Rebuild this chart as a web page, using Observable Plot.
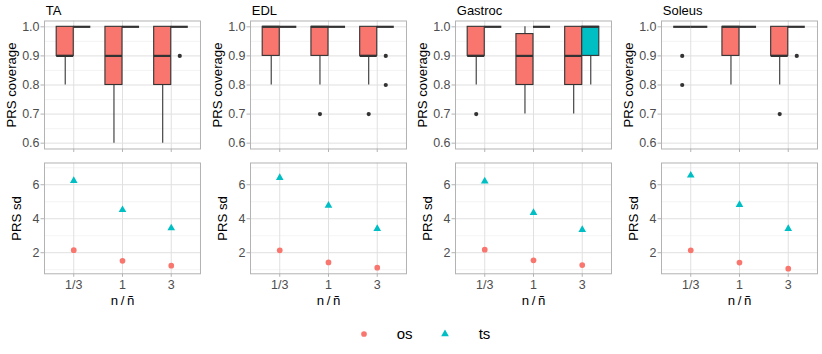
<!DOCTYPE html>
<html><head><meta charset="utf-8">
<script src="https://cdn.jsdelivr.net/npm/d3@7"></script>
<script src="https://cdn.jsdelivr.net/npm/@observablehq/plot@0.6"></script>
<style>
body{margin:0;background:#fff;}
#chart{position:relative;width:822px;height:354px;font-family:"Liberation Sans",Arial,sans-serif;overflow:hidden;}
.cell{position:absolute;}
.leg{position:absolute;font-size:15px;color:#000;line-height:1;}
</style></head><body><div id="chart"></div>
<script>
const muscles = ["TA", "EDL", "Gastroc", "Soleus"];
const ratios = ["1/3", "1", "3"];
const groups = ["os", "ts"];
const groupColors = ["#F8766D", "#00BFC4"];

// five-number summaries [lower whisker, Q1, median, Q3, upper whisker] for ratios 1/3, 1, 3
const boxTA_os = [[0.8, 0.9, 0.9, 1.0, 1.0], [0.6, 0.8, 0.9, 1.0, 1.0], [0.6, 0.8, 0.9, 1.0, 1.0]];
const boxTA_ts = [[1.0, 1.0, 1.0, 1.0, 1.0], [1.0, 1.0, 1.0, 1.0, 1.0], [1.0, 1.0, 1.0, 1.0, 1.0]];
const boxEDL_os = [[0.8, 0.9, 1.0, 1.0, 1.0], [0.8, 0.9, 1.0, 1.0, 1.0], [0.8, 0.9, 0.9, 1.0, 1.0]];
const boxEDL_ts = [[1.0, 1.0, 1.0, 1.0, 1.0], [1.0, 1.0, 1.0, 1.0, 1.0], [1.0, 1.0, 1.0, 1.0, 1.0]];
const boxGastroc_os = [[0.8, 0.9, 0.9, 1.0, 1.0], [0.7, 0.8, 0.9, 0.975, 1.0], [0.7, 0.8, 0.9, 1.0, 1.0]];
const boxGastroc_ts = [[1.0, 1.0, 1.0, 1.0, 1.0], [1.0, 1.0, 1.0, 1.0, 1.0], [0.8, 0.9, 1.0, 1.0, 1.0]];
const boxSoleus_os = [[1.0, 1.0, 1.0, 1.0, 1.0], [0.8, 0.9, 1.0, 1.0, 1.0], [0.8, 0.9, 0.9, 1.0, 1.0]];
const boxSoleus_ts = [[1.0, 1.0, 1.0, 1.0, 1.0], [1.0, 1.0, 1.0, 1.0, 1.0], [1.0, 1.0, 1.0, 1.0, 1.0]];

// outliers: [muscle, ratio, group, value]
const outliers = [
  ["TA", "3", "ts", 0.9],
  ["EDL", "1", "os", 0.7],
  ["EDL", "3", "os", 0.7],
  ["EDL", "3", "ts", 0.9],
  ["EDL", "3", "ts", 0.8],
  ["Gastroc", "1/3", "os", 0.7],
  ["Soleus", "1/3", "os", 0.9],
  ["Soleus", "1/3", "os", 0.8],
  ["Soleus", "3", "os", 0.7],
  ["Soleus", "3", "ts", 0.9]
];

// PRS sd for ratios 1/3, 1, 3
const sdTA_os = [2.15, 1.52, 1.24];
const sdTA_ts = [6.24, 4.52, 3.45];
const sdEDL_os = [2.14, 1.43, 1.12];
const sdEDL_ts = [6.41, 4.78, 3.41];
const sdGastroc_os = [2.18, 1.55, 1.27];
const sdGastroc_ts = [6.21, 4.35, 3.35];
const sdSoleus_os = [2.14, 1.42, 1.06];
const sdSoleus_ts = [6.55, 4.82, 3.41];

const coverageTicks = [0.6, 0.7, 0.8, 0.9, 1.0];
const coverageMinor = [0.65, 0.75, 0.85, 0.95];
const sdTicks = [2, 4, 6];
const sdMinor = [1, 3, 5, 7];

const boxStats = {
  TA: [boxTA_os, boxTA_ts], EDL: [boxEDL_os, boxEDL_ts],
  Gastroc: [boxGastroc_os, boxGastroc_ts], Soleus: [boxSoleus_os, boxSoleus_ts]
};
const sdStats = {
  TA: [sdTA_os, sdTA_ts], EDL: [sdEDL_os, sdEDL_ts],
  Gastroc: [sdGastroc_os, sdGastroc_ts], Soleus: [sdSoleus_os, sdSoleus_ts]
};

const colW = 205.6, mL = 44, mR = colW - 44 - 156;
const boxW = 0.35;
const FONT = '"Liberation Sans", Arial, sans-serif';
const chart = document.getElementById("chart");

muscles.forEach((m, k) => {
  const boxes = [];
  boxStats[m].forEach((arr, g) => arr.forEach((s, i) => {
    const c = i + 1;
    const x1 = g === 0 ? c - boxW : c, x2 = g === 0 ? c : c + boxW;
    boxes.push({group: groups[g], x1, x2, xc: (x1 + x2) / 2, lo: s[0], q1: s[1], med: s[2], q3: s[3], hi: s[4]});
  }));
  const outs = outliers.filter(d => d[0] === m).map(d => {
    const c = ratios.indexOf(d[1]) + 1;
    return {x: d[2] === "os" ? c - boxW / 2 : c + boxW / 2, y: d[3]};
  });

  const top = Plot.plot({
    width: colW, height: 155,
    marginLeft: mL, marginRight: mR, marginTop: 20.5, marginBottom: 6.5,
    style: {fontFamily: FONT, fontSize: "12.5px", background: "transparent", overflow: "visible"},
    x: {domain: [0.4, 3.6], axis: null},
    y: {domain: [0.58, 1.02], axis: null},
    color: {domain: groups, range: groupColors},
    marks: [
      Plot.ruleY(coverageMinor, {stroke: "#ececec", strokeWidth: 0.6}),
      Plot.ruleY(coverageTicks, {stroke: "#e0e0e0", strokeWidth: 1}),
      Plot.ruleX([1, 2, 3], {stroke: "#e0e0e0", strokeWidth: 1}),
      Plot.ruleX(boxes, {x: "xc", y1: "lo", y2: "q1", stroke: "#333333", strokeWidth: 1.1}),
      Plot.ruleX(boxes, {x: "xc", y1: "q3", y2: "hi", stroke: "#333333", strokeWidth: 1.1}),
      Plot.rect(boxes, {x1: "x1", x2: "x2", y1: "q1", y2: "q3", fill: "group", stroke: "#333333", strokeWidth: 1.1}),
      Plot.ruleY(boxes, {y: "med", x1: "x1", x2: "x2", stroke: "#333333", strokeWidth: 2.2}),
      Plot.dot(outs, {x: "x", y: "y", r: 2.1, fill: "#333333", stroke: null}),
      Plot.frame({stroke: "#b3b3b3", strokeWidth: 1}),
      Plot.axisY({ticks: coverageTicks, tickFormat: d3.format(".1f"), tickSize: 3.5, tickPadding: 1.5, stroke: "#b3b3b3", color: "#4d4d4d", label: null}),
      Plot.axisX({ticks: [1, 2, 3], tickFormat: () => "", tickSize: 3.5, stroke: "#b3b3b3", label: null}),
      Plot.text([m], {frameAnchor: "top-left", dx: 1.3, dy: -10.5, text: d => d, fontSize: 13, fill: "#000", textAnchor: "start", lineAnchor: "middle"}),
      Plot.text(["PRS coverage"], {frameAnchor: "left", dx: -32.8, text: d => d, rotate: -90, fontSize: 13.2, fill: "#000", textAnchor: "middle", lineAnchor: "middle"})
    ]
  });
  top.classList.add("cell");
  top.style.left = (k * colW) + "px";
  top.style.top = "0px";
  chart.appendChild(top);

  const pts = [];
  sdStats[m].forEach((arr, g) => arr.forEach((v, i) => pts.push({group: groups[g], x: i + 1, y: v})));

  const bot = Plot.plot({
    width: colW, height: 155,
    marginLeft: mL, marginRight: mR, marginTop: 7.5, marginBottom: 36.7,
    style: {fontFamily: FONT, fontSize: "12.5px", background: "transparent", overflow: "visible"},
    x: {domain: [0.4, 3.6], axis: null},
    y: {domain: [0.76, 7.28], axis: null},
    color: {domain: groups, range: groupColors},
    symbol: {domain: groups, range: ["circle", "triangle"]},
    marks: [
      Plot.ruleY(sdMinor, {stroke: "#ececec", strokeWidth: 0.6}),
      Plot.ruleY(sdTicks, {stroke: "#e0e0e0", strokeWidth: 1}),
      Plot.ruleX([1, 2, 3], {stroke: "#e0e0e0", strokeWidth: 1}),
      Plot.dot(pts, {x: "x", y: "y", fill: "group", symbol: "group", r: 2.85, stroke: null}),
      Plot.frame({stroke: "#b3b3b3", strokeWidth: 1}),
      Plot.axisY({ticks: sdTicks, tickFormat: d => String(d), tickSize: 3.5, tickPadding: 1.5, stroke: "#b3b3b3", color: "#4d4d4d", label: null}),
      Plot.axisX({ticks: [1, 2, 3], tickFormat: d => ratios[d - 1], tickSize: 3.5, tickPadding: 2.5, stroke: "#b3b3b3", color: "#4d4d4d", label: null}),
      Plot.text(["PRS sd"], {frameAnchor: "left", dx: -27.3, text: d => d, rotate: -90, fontSize: 13.2, fill: "#000", textAnchor: "middle", lineAnchor: "middle"}),
      Plot.text(["n\u2009/\u2009\u00f1"], {frameAnchor: "bottom", dy: 27.4, text: d => d, fontSize: 13.2, fill: "#000", textAnchor: "middle", lineAnchor: "middle"})
    ]
  });
  bot.classList.add("cell");
  bot.style.left = (k * colW) + "px";
  bot.style.top = "155px";
  chart.appendChild(bot);
});

// legend
const legendItems = [
  {label: groups[0], color: groupColors[0], shape: "circle", sx: 364, tx: 396.7},
  {label: groups[1], color: groupColors[1], shape: "triangle", sx: 445, tx: 478.7}
];
legendItems.forEach(it => {
  const s = document.createElementNS("http://www.w3.org/2000/svg", "svg");
  s.setAttribute("width", 12); s.setAttribute("height", 12);
  s.setAttribute("class", "leg");
  s.style.left = (it.sx - 6) + "px"; s.style.top = (334 - 6) + "px";
  const p = document.createElementNS("http://www.w3.org/2000/svg", "path");
  p.setAttribute("d", d3.symbol(it.shape === "circle" ? d3.symbolCircle : d3.symbolTriangle, Math.PI * 2.85 * 2.85)());
  p.setAttribute("transform", "translate(6,6)");
  p.setAttribute("fill", it.color);
  s.appendChild(p);
  chart.appendChild(s);
  const t = document.createElement("div");
  t.className = "leg";
  t.textContent = it.label;
  t.style.left = it.tx + "px"; t.style.top = (334 - 8.5) + "px";
  chart.appendChild(t);
});
</script>
</body></html>
